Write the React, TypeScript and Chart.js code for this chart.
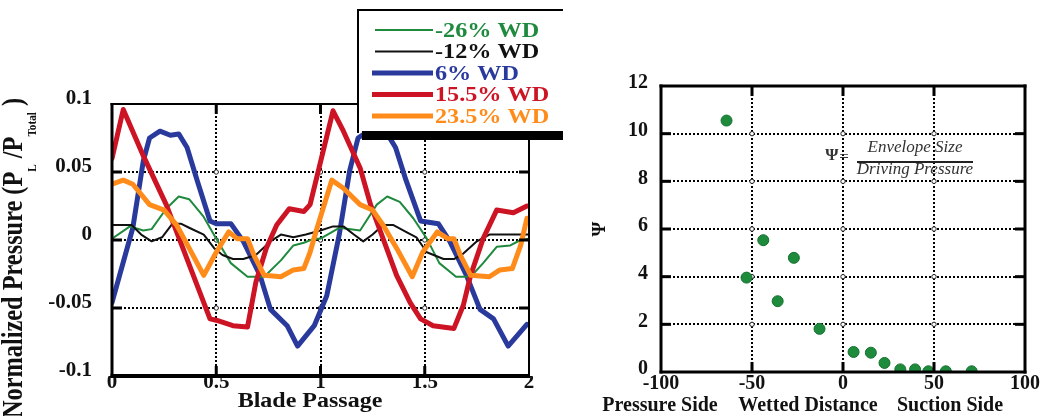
import React, { useEffect, useRef } from 'react';
import { Chart, registerables } from 'chart.js';

Chart.register(...registerables);

const SERIF = '"Liberation Serif", "Times New Roman", serif';

// ---------- Left chart: normalized pressure vs blade passage ----------
const passageTicks = [0, 0.5, 1, 1.5, 2];
const pressureTicks = [-0.1, -0.05, 0, 0.05, 0.1];
const seriesLabels = ['-26% WD', '-12% WD', '6% WD', '15.5% WD', '23.5% WD'];
const seriesColors = ['#1f8a3e', '#111111', '#2a3a9c', '#cc1424', '#ff8c1a'];
const seriesWidths = [2, 2, 5, 5, 5];
const seriesOrder = [3, 2, 4, 1, 0];

const greenX = [0, 0.086, 0.15, 0.19, 0.26, 0.32, 0.37, 0.44, 0.5, 0.57, 0.65, 0.73, 0.81, 0.87, 0.92, 0.97, 1.0, 1.09, 1.19, 1.27, 1.32, 1.38, 1.445, 1.51, 1.57, 1.65, 1.72, 1.78, 1.845, 1.91, 1.96, 2.0];
const greenY = [0.001, 0.01, 0.007, 0.008, 0.023, 0.032, 0.03, 0.017, 0.001, -0.017, -0.027, -0.027, -0.015, -0.004, -0.002, 0.001, 0.001, 0.009, 0.007, 0.026, 0.032, 0.028, 0.016, 0.001, -0.017, -0.027, -0.027, -0.017, -0.005, -0.004, 0.0, 0.001];

const blackX = [0, 0.094, 0.14, 0.19, 0.24, 0.29, 0.33, 0.37, 0.44, 0.49, 0.53, 0.58, 0.63, 0.69, 0.76, 0.81, 0.87, 0.93, 1.0, 1.06, 1.11, 1.16, 1.205, 1.25, 1.3, 1.35, 1.41, 1.46, 1.51, 1.59, 1.64, 1.685, 1.75, 1.81, 1.88, 1.94, 2.0];
const blackY = [0.011, 0.011, 0.004, -0.001, 0.002, 0.012, 0.012, 0.009, 0.004, -0.006, -0.011, -0.014, -0.014, -0.011, -0.001, 0.004, 0.002, 0.004, 0.007, 0.01, 0.01, 0.004, -0.001, 0.004, 0.011, 0.011, 0.006, 0.002, -0.009, -0.014, -0.014, -0.01, -0.001, 0.004, 0.004, 0.004, 0.004];

const blueX = [0, 0.1, 0.15, 0.18, 0.23, 0.28, 0.32, 0.36, 0.41, 0.47, 0.5, 0.57, 0.63, 0.71, 0.76, 0.84, 0.89, 0.97, 1.03, 1.09, 1.14, 1.18, 1.23, 1.28, 1.32, 1.36, 1.41, 1.48, 1.565, 1.62, 1.7, 1.765, 1.83, 1.9, 1.99];
const blueY = [-0.046, 0.009, 0.058, 0.075, 0.08, 0.077, 0.078, 0.068, 0.043, 0.014, 0.012, 0.012, -0.001, -0.026, -0.051, -0.063, -0.078, -0.063, -0.041, 0.004, 0.051, 0.075, 0.08, 0.077, 0.078, 0.068, 0.044, 0.014, 0.012, -0.001, -0.026, -0.051, -0.058, -0.078, -0.062];

const redX = [0, 0.054, 0.15, 0.26, 0.39, 0.47, 0.5, 0.58, 0.65, 0.69, 0.74, 0.79, 0.85, 0.92, 0.95, 1.06, 1.11, 1.19, 1.24, 1.365, 1.43, 1.48, 1.54, 1.64, 1.685, 1.72, 1.78, 1.845, 1.925, 1.99];
const redY = [0.06, 0.096, 0.062, 0.026, -0.026, -0.058, -0.059, -0.063, -0.064, -0.031, -0.006, 0.011, 0.023, 0.021, 0.026, 0.095, 0.08, 0.053, 0.026, -0.026, -0.046, -0.058, -0.063, -0.065, -0.048, -0.026, 0.001, 0.022, 0.02, 0.025];

const orangeX = [0, 0.054, 0.1, 0.18, 0.25, 0.31, 0.37, 0.44, 0.5, 0.56, 0.6, 0.65, 0.68, 0.73, 0.81, 0.87, 0.92, 0.95, 0.98, 1.054, 1.11, 1.19, 1.25, 1.3, 1.365, 1.44, 1.49, 1.56, 1.61, 1.64, 1.67, 1.72, 1.81, 1.86, 1.92, 1.96, 1.99];
const orangeY = [0.041, 0.044, 0.041, 0.026, 0.022, 0.011, -0.006, -0.026, -0.009, 0.006, 0.001, 0.001, -0.011, -0.026, -0.027, -0.022, -0.021, -0.009, 0.007, 0.044, 0.038, 0.026, 0.022, 0.011, -0.006, -0.027, -0.009, 0.006, 0.001, 0.001, -0.011, -0.026, -0.027, -0.022, -0.021, -0.004, 0.016];

const seriesX = [greenX, blackX, blueX, redX, orangeX];
const seriesY = [greenY, blackY, blueY, redY, orangeY];

// ---------- Right chart: Psi vs wetted distance ----------
const distanceTicks = [-100, -50, 0, 50, 100];
const psiTicks = [0, 2, 4, 6, 8, 10, 12];
const psiX = [-64, -43.8, -27, -53, -35.9, -12.9, 5.8, 15.3, 22.8, 31.5, 39.6, 46.9, 56.5, 70.7];
const psiY = [10.55, 5.53, 4.79, 3.96, 2.97, 1.81, 0.84, 0.81, 0.38, 0.11, 0.11, 0.03, 0.03, 0.03];
const psiColor = '#1d8a3c';
const sideLabels = ['Pressure Side', 'Wetted Distance', 'Suction Side'];

const fmt = (v: number | string) => {
  const n = Number(v);
  if (Math.abs(n) < 1e-9) return '0';
  return String(Math.round(n * 1000) / 1000);
};

const near = (a: number, b: number) => Math.abs(a - b) < 1e-6 * Math.max(1, Math.abs(b));

function gridColor(ticks: number[]) {
  const lo = ticks[0];
  const hi = ticks[ticks.length - 1];
  return (c: any) => {
    const v = c.tick ? c.tick.value : NaN;
    if (near(v, lo) || near(v, hi)) return 'rgba(0,0,0,0)';
    return '#000';
  };
}

function drawDecor(chart: any, xt: number[], yt: number[], w: { l: number; r: number; t: number; b: number }) {
  const { ctx, chartArea: a, scales } = chart;
  const xs = scales.x;
  const ys = scales.y;
  ctx.save();
  ctx.fillStyle = '#000';
  const len = 10;
  yt.slice(1, -1).forEach((v) => {
    const p = ys.getPixelForValue(v);
    ctx.fillRect(a.left, p - 1.5, len, 3);
    ctx.fillRect(a.right - len, p - 1.5, len, 3);
  });
  xt.slice(1, -1).forEach((v) => {
    const p = xs.getPixelForValue(v);
    ctx.fillRect(p - 1.5, a.top, 3, len);
    ctx.fillRect(p - 1.5, a.bottom - len, 3, len);
  });
  ctx.fillRect(a.left - w.l / 2, a.top - w.t / 2, a.right - a.left + w.l / 2 + w.r / 2, w.t);
  ctx.fillRect(a.left - w.l / 2, a.bottom - w.b / 2, a.right - a.left + w.l / 2 + w.r / 2, w.b);
  ctx.fillRect(a.left - w.l / 2, a.top - w.t / 2, w.l, a.bottom - a.top + w.t / 2 + w.b / 2);
  ctx.fillRect(a.right - w.r / 2, a.top - w.t / 2, w.r, a.bottom - a.top + w.t / 2 + w.b / 2);
  ctx.restore();
}

function drawCircles(chart: any, xt: number[], yt: number[]) {
  const { ctx, scales } = chart;
  ctx.save();
  ctx.strokeStyle = '#222';
  ctx.fillStyle = '#fff';
  ctx.lineWidth = 1;
  xt.slice(1, -1).forEach((xv) => {
    yt.slice(1, -1).forEach((yv) => {
      ctx.beginPath();
      ctx.arc(scales.x.getPixelForValue(xv), scales.y.getPixelForValue(yv), 2.2, 0, Math.PI * 2);
      ctx.fill();
      ctx.stroke();
    });
  });
  ctx.restore();
}

const leftPlugin = {
  id: 'leftDecor',
  beforeDatasetsDraw(chart: any) {
    drawCircles(chart, passageTicks, pressureTicks);
  },
  afterDatasetsDraw(chart: any) {
    drawDecor(chart, passageTicks, pressureTicks, { l: 3, r: 2, t: 2, b: 4 });
  },
  afterDraw(chart: any) {
    const ctx = chart.ctx;
    ctx.save();
    ctx.translate(310, 402);
    ctx.scale(1.2, 1);
    ctx.font = `bold 20px ${SERIF}`;
    ctx.fillStyle = '#111';
    ctx.textAlign = 'center';
    ctx.textBaseline = 'middle';
    ctx.fillText('Blade Passage', 0, 0);
    ctx.restore();

    ctx.save();
    ctx.translate(22, 418);
    ctx.rotate(-Math.PI / 2);
    const parts: [string, boolean][] = [
      ['Normalized Pressure (P', false],
      ['L', true],
      [' /P', false],
      ['Total', true],
      [' )', false],
    ];
    const mainF = `bold 24px ${SERIF}`;
    const subF = `bold 11px ${SERIF}`;
    let total = 0;
    parts.forEach(([t, s]) => {
      ctx.font = s ? subF : mainF;
      total += ctx.measureText(t).width;
    });
    const sx = 320 / total;
    ctx.scale(sx, 1.2);
    ctx.fillStyle = '#111';
    ctx.textBaseline = 'alphabetic';
    let x = 0;
    parts.forEach(([t, s]) => {
      ctx.font = s ? subF : mainF;
      ctx.fillText(t, x, s ? 12 : 0);
      x += ctx.measureText(t).width;
    });
    ctx.restore();

    ctx.save();
    const L = 358, T = 10, R = chart.width, B = 132;
    ctx.fillStyle = '#fff';
    ctx.fillRect(L, T, R - L, B - T);
    ctx.fillStyle = '#000';
    ctx.fillRect(L - 1, T - 1, R - L + 1, 2);
    ctx.fillRect(L - 1, T - 1, 2, B - T + 2);
    ctx.fillRect(L + 4, B - 1, R - L - 4, 9);
    chart.data.datasets.forEach((ds: any, i: number) => {
      const y = 30 + i * 21.5;
      ctx.strokeStyle = ds.borderColor;
      ctx.lineWidth = ds.borderWidth;
      ctx.beginPath();
      ctx.moveTo(ds.borderWidth > 3 ? 372 : 375, y);
      ctx.lineTo(433, y);
      ctx.stroke();
      ctx.save();
      ctx.translate(435, y + 1);
      ctx.scale(1.1, 1);
      ctx.font = `bold 22px ${SERIF}`;
      ctx.fillStyle = ds.borderColor;
      ctx.textBaseline = 'middle';
      ctx.fillText(ds.label, 0, 0);
      ctx.restore();
    });
    ctx.restore();
  },
};

const rightPlugin = {
  id: 'rightDecor',
  beforeDatasetsDraw(chart: any) {
    drawCircles(chart, distanceTicks, psiTicks);
    const ctx = chart.ctx;
    ctx.save();
    ctx.fillStyle = '#333';
    ctx.textAlign = 'center';
    ctx.textBaseline = 'middle';
    ctx.font = `bold 17px ${SERIF}`;
    ctx.fillText('\u03A8', 252, 156);
    ctx.font = `17px ${SERIF}`;
    ctx.fillText('=', 264, 158);
    ctx.font = `italic 17px ${SERIF}`;
    ctx.fillText('Envelope Size', 335, 148);
    ctx.fillText('Driving Pressure', 335, 170);
    ctx.fillStyle = '#222';
    ctx.fillRect(277, 161, 116, 2);
    ctx.restore();
  },
  afterDatasetsDraw(chart: any) {
    drawDecor(chart, distanceTicks, psiTicks, { l: 3, r: 3, t: 3, b: 3 });
  },
  afterDraw(chart: any) {
    const ctx = chart.ctx;
    ctx.save();
    ctx.fillStyle = '#111';
    ctx.textAlign = 'center';
    ctx.textBaseline = 'middle';
    ctx.font = `bold 20px ${SERIF}`;
    const cx = [80, 228, 370];
    sideLabels.forEach((t, i) => ctx.fillText(t, cx[i], 406));
    ctx.translate(20, 229);
    ctx.rotate(-Math.PI / 2);
    ctx.font = `bold 19px ${SERIF}`;
    ctx.fillText('\u03A8', 0, 0);
    ctx.restore();
  },
};

function LeftChart() {
  const ref = useRef<HTMLCanvasElement>(null);
  useEffect(() => {
    if (!ref.current) return;
    const datasets = seriesLabels.map((label, i) => ({
      label,
      data: seriesX[i].map((x, j) => ({ x, y: seriesY[i][j] })),
      borderColor: seriesColors[i],
      backgroundColor: seriesColors[i],
      borderWidth: seriesWidths[i],
      pointRadius: 0,
      tension: 0,
      fill: false,
      borderJoinStyle: 'round' as const,
      borderCapStyle: 'round' as const,
      order: seriesOrder[i],
    }));
    const chart = new Chart(ref.current, {
      type: 'line',
      data: { datasets },
      plugins: [leftPlugin],
      options: {
        responsive: false,
        animation: false,
        events: [],
        layout: { padding: { left: 0, right: 34, top: 104, bottom: 0 } },
        plugins: { legend: { display: false }, tooltip: { enabled: false } },
        scales: {
          x: {
            type: 'linear',
            min: passageTicks[0],
            max: passageTicks[passageTicks.length - 1],
            afterFit: (s: any) => { s.height = 40; },
            afterBuildTicks: (s: any) => { s.ticks = passageTicks.map((v) => ({ value: v })); },
            ticks: {
              callback: fmt,
              padding: -6,
              maxRotation: 0,
              autoSkip: false,
              color: '#111',
              font: { family: SERIF, size: 21, weight: 'bold' },
            },
            grid: { color: gridColor(passageTicks), lineWidth: 2, drawTicks: false },
            border: { display: false, dash: [2, 2] },
          },
          y: {
            type: 'linear',
            min: pressureTicks[0],
            max: pressureTicks[pressureTicks.length - 1],
            afterFit: (s: any) => { s.width = 112; },
            afterBuildTicks: (s: any) => { s.ticks = pressureTicks.map((v) => ({ value: v })); },
            ticks: {
              callback: fmt,
              padding: 20,
              labelOffset: -5,
              autoSkip: false,
              color: '#111',
              font: { family: SERIF, size: 21, weight: 'bold' },
            },
            grid: { color: gridColor(pressureTicks), lineWidth: 2, drawTicks: false },
            border: { display: false, dash: [2, 2] },
          },
        },
      } as any,
    });
    return () => chart.destroy();
  }, []);
  return <canvas ref={ref} width={563} height={416} style={{ position: 'absolute', left: 0, top: 0 }} />;
}

function RightChart() {
  const ref = useRef<HTMLCanvasElement>(null);
  useEffect(() => {
    if (!ref.current) return;
    const chart = new Chart(ref.current, {
      type: 'scatter',
      data: {
        datasets: [
          {
            label: 'Psi',
            data: psiX.map((x, i) => ({ x, y: psiY[i] })),
            backgroundColor: psiColor,
            borderColor: '#157030',
            borderWidth: 1,
            pointRadius: 5.5,
          },
        ],
      },
      plugins: [rightPlugin],
      options: {
        responsive: false,
        animation: false,
        events: [],
        layout: { padding: { left: 0, right: 13, top: 86, bottom: 0 } },
        plugins: { legend: { display: false }, tooltip: { enabled: false } },
        scales: {
          x: {
            type: 'linear',
            min: distanceTicks[0],
            max: distanceTicks[distanceTicks.length - 1],
            afterFit: (s: any) => { s.height = 44; },
            afterBuildTicks: (s: any) => { s.ticks = distanceTicks.map((v) => ({ value: v })); },
            ticks: {
              callback: fmt,
              padding: 0,
              maxRotation: 0,
              autoSkip: false,
              color: '#111',
              font: { family: SERIF, size: 20, weight: 'bold' },
            },
            grid: { color: gridColor(distanceTicks), lineWidth: 2, drawTicks: false },
            border: { display: false, dash: [2, 2] },
          },
          y: {
            type: 'linear',
            min: psiTicks[0],
            max: psiTicks[psiTicks.length - 1],
            afterFit: (s: any) => { s.width = 81; },
            afterBuildTicks: (s: any) => { s.ticks = psiTicks.map((v) => ({ value: v })); },
            ticks: {
              callback: fmt,
              padding: 13,
              labelOffset: -3,
              autoSkip: false,
              color: '#111',
              font: { family: SERIF, size: 20, weight: 'bold' },
            },
            grid: { color: gridColor(psiTicks), lineWidth: 2, drawTicks: false },
            border: { display: false, dash: [2, 2] },
          },
        },
      } as any,
    });
    return () => chart.destroy();
  }, []);
  return <canvas ref={ref} width={460} height={416} style={{ position: 'absolute', left: 580, top: 0 }} />;
}

export default function App() {
  return (
    <div style={{ position: 'absolute', left: 0, top: 0, width: 1040, height: 416, background: '#fff', overflow: 'hidden' }}>
      <LeftChart />
      <RightChart />
    </div>
  );
}
